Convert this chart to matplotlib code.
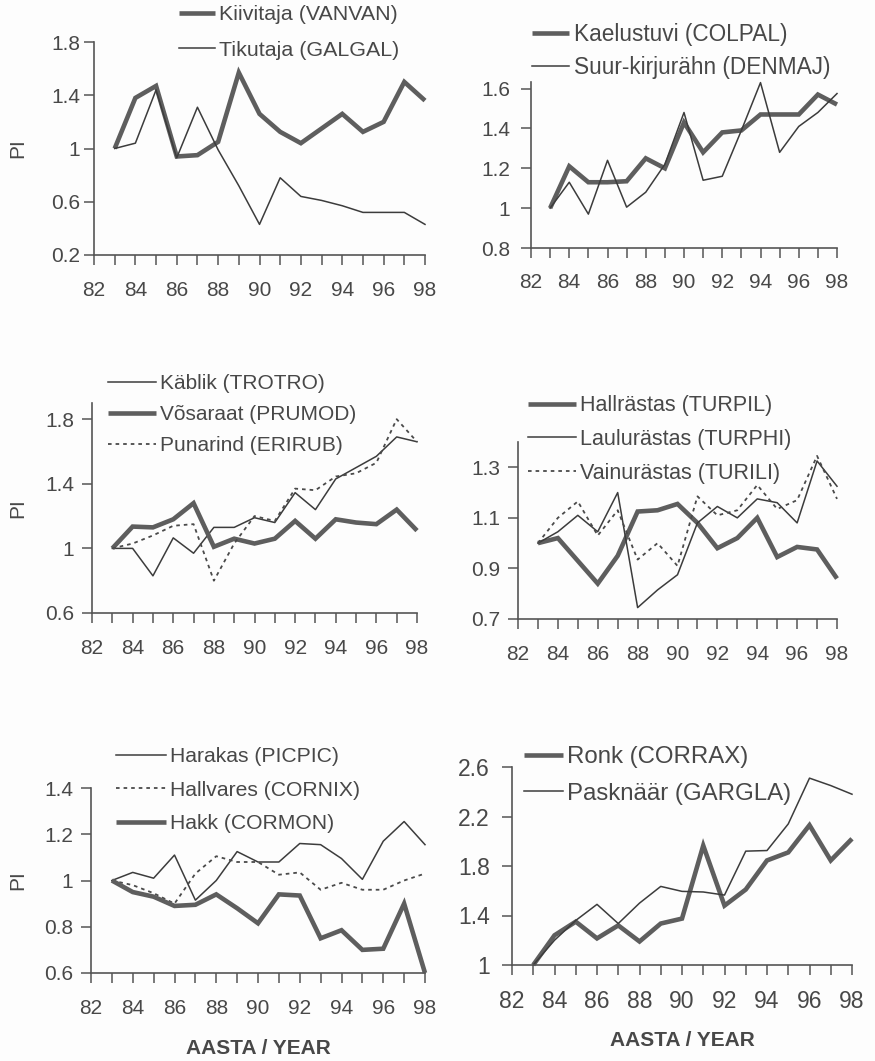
import matplotlib
matplotlib.use('Agg')
import matplotlib.pyplot as plt

plt.rcParams['font.family'] = ['Liberation Sans', 'DejaVu Sans']

W, H = 875, 1061
years = list(range(83, 99))

# PI values (1983 = 1)
vanvan = [1.0, 1.38, 1.47, 0.94, 0.95, 1.05, 1.57, 1.26, 1.125, 1.04, 1.15, 1.26, 1.125, 1.2, 1.5, 1.36]
galgal = [1.0, 1.04, 1.44, 0.93, 1.31, 0.99, 0.72, 0.43, 0.78, 0.64, 0.61, 0.57, 0.52, 0.52, 0.52, 0.43]

colpal = [1.0, 1.21, 1.13, 1.13, 1.135, 1.25, 1.2, 1.43, 1.28, 1.38, 1.39, 1.47, 1.47, 1.47, 1.57, 1.52]
denmaj = [1.0, 1.13, 0.97, 1.24, 1.005, 1.08, 1.22, 1.48, 1.14, 1.16, 1.39, 1.63, 1.28, 1.41, 1.48, 1.575]

trotro = [1.0, 1.0, 0.83, 1.065, 0.97, 1.13, 1.13, 1.19, 1.16, 1.345, 1.24, 1.43, 1.5, 1.57, 1.69, 1.66]
prumod = [1.0, 1.135, 1.13, 1.18, 1.28, 1.01, 1.06, 1.03, 1.06, 1.17, 1.06, 1.18, 1.16, 1.15, 1.24, 1.11]
erirub = [1.0, 1.03, 1.08, 1.14, 1.15, 0.8, 1.03, 1.2, 1.17, 1.37, 1.36, 1.445, 1.465, 1.53, 1.8, 1.66]

turpil = [1.0, 1.02, 0.93, 0.84, 0.95, 1.125, 1.13, 1.155, 1.08, 0.98, 1.02, 1.1, 0.945, 0.985, 0.975, 0.86]
turphi = [1.0, 1.045, 1.11, 1.045, 1.2, 0.745, 0.815, 0.875, 1.08, 1.145, 1.1, 1.175, 1.16, 1.08, 1.325, 1.225]
turili = [1.0, 1.1, 1.165, 1.03, 1.13, 0.935, 1.0, 0.91, 1.185, 1.11, 1.13, 1.23, 1.135, 1.17, 1.345, 1.175]

picpic = [1.0, 1.035, 1.01, 1.11, 0.915, 1.0, 1.125, 1.08, 1.08, 1.16, 1.155, 1.095, 1.005, 1.17, 1.255, 1.155]
cornix = [1.0, 0.98, 0.945, 0.9, 1.03, 1.105, 1.08, 1.08, 1.025, 1.035, 0.96, 0.99, 0.96, 0.96, 1.0, 1.03]
cormon = [1.0, 0.95, 0.93, 0.89, 0.895, 0.94, 0.88, 0.815, 0.94, 0.935, 0.75, 0.785, 0.70, 0.705, 0.9, 0.6]

corrax = [1.0, 1.24, 1.35, 1.215, 1.32, 1.19, 1.335, 1.375, 1.965, 1.48, 1.61, 1.845, 1.91, 2.13, 1.845, 2.02]
gargla = [1.0, 1.2, 1.36, 1.49, 1.335, 1.5, 1.635, 1.595, 1.59, 1.565, 1.92, 1.925, 2.14, 2.51, 2.45, 2.38]

TXT = '#484848'
THICK = dict(color='#5e5e5e', lw=3.3, solid_capstyle='butt', solid_joinstyle='miter')
THIN = dict(color='#3c3c3c', lw=1.1)
DOT = dict(color='#4a4a4a', lw=1.3, linestyle=(0, (2, 2.2)))

fig = plt.figure(figsize=(W / 100, H / 100), dpi=100)
fig.patch.set_facecolor('#fdfdfd')


def rect(l, t, r, b):
    return [l / W, 1 - b / H, (r - l) / W, (b - t) / H]


def panel(box, ylim, yticks, ylabels, series, leg_xy, hlen, lfs=15, lsp=0.6, tfs=15,
          ypad=5, xpad=12, ylab=False, xlab=False):
    ax = fig.add_axes(rect(*box))
    ax.set_facecolor('none')
    for name, vals, style in series:
        ax.plot(years, vals, label=name, clip_on=False, **style)
    ax.set_xlim(82, 98)
    ax.set_ylim(*ylim)
    xt = list(range(82, 99))
    ax.set_xticks(xt)
    ax.set_xticklabels([str(y) if y % 2 == 0 else '' for y in xt])
    ax.set_yticks(yticks)
    ax.set_yticklabels(ylabels)
    for s in ['top', 'right']:
        ax.spines[s].set_visible(False)
    for s in ['left', 'bottom']:
        ax.spines[s].set_color('#555555')
        ax.spines[s].set_linewidth(1.2)
    ax.tick_params(axis='x', direction='out', length=7, width=1.1, color='#555555',
                   labelsize=tfs, labelcolor=TXT, pad=xpad)
    ax.tick_params(axis='y', direction='out', length=7, width=1.1, color='#555555',
                   labelsize=tfs, labelcolor=TXT, pad=ypad)
    leg = ax.legend(loc='upper left', bbox_to_anchor=(leg_xy[0] / W, 1 - leg_xy[1] / H),
                    bbox_transform=fig.transFigure, frameon=True, facecolor='#fdfdfd',
                    edgecolor='none', framealpha=1, fancybox=False, borderpad=0.05,
                    borderaxespad=0, handlelength=hlen, handletextpad=0.2,
                    labelspacing=lsp, fontsize=lfs)
    leg.set_zorder(5)
    for t in leg.get_texts():
        t.set_color(TXT)
    if ylab:
        fig.text(18 / W, 1 - (box[1] + box[3]) / 2 / H, 'PI', rotation=90, ha='center',
                 va='center', fontsize=15, color=TXT)
    if xlab:
        fig.text((box[0] + box[2]) / 2 / W, 1 - (box[3] + 76) / H, 'AASTA / YEAR',
                 ha='center', va='center', fontsize=15, fontweight='bold', color=TXT)
    return ax


panel((94, 42, 425, 255), (0.2, 1.8), [0.2, 0.6, 1.0, 1.4, 1.8], ['0.2', '0.6', '1', '1.4', '1.8'],
      [('Kiivitaja (VANVAN)', vanvan, THICK), ('Tikutaja (GALGAL)', galgal, THIN)],
      (178, 4), 1.68, lfs=15.4, lsp=0.77, ypad=3, ylab=True)

panel((531, 82, 837, 248), (0.8, 1.633), [0.8, 1.0, 1.2, 1.4, 1.6], ['0.8', '1', '1.2', '1.4', '1.6'],
      [('Kaelustuvi (COLPAL)', colpal, THICK), ('Suur-kirjurähn (DENMAJ)', denmaj, THIN)],
      (531, 22), 1.63, lfs=16.3, lsp=0.44, ypad=8, xpad=11)

panel((92, 403, 417, 613), (0.6, 1.9), [0.6, 1.0, 1.4, 1.8], ['0.6', '1', '1.4', '1.8'],
      [('Käblik (TROTRO)', trotro, THIN), ('Võsaraat (PRUMOD)', prumod, THICK),
       ('Punarind (ERIRUB)', erirub, DOT)],
      (107, 373), 2.3, lfs=15, lsp=0.57, ypad=6, ylab=True)

panel((518, 442, 837, 619), (0.7, 1.4), [0.7, 0.9, 1.1, 1.3], ['0.7', '0.9', '1.1', '1.3'],
      [('Hallrästas (TURPIL)', turpil, THICK), ('Laulurästas (TURPHI)', turphi, THIN),
       ('Vainurästas (TURILI)', turili, DOT)],
      (527, 394), 2.23, lfs=15.5, lsp=0.6, ypad=6)

panel((91, 788, 425, 973), (0.6, 1.4), [0.6, 0.8, 1.0, 1.2, 1.4], ['0.6', '0.8', '1', '1.2', '1.4'],
      [('Harakas (PICPIC)', picpic, THIN), ('Hallvares (CORNIX)', cornix, DOT),
       ('Hakk (CORMON)', cormon, THICK)],
      (115, 746), 2.37, lfs=15.2, lsp=0.69, ypad=6, ylab=True, xlab=True)

panel((512, 767, 852, 965), (1.0, 2.6), [1.0, 1.4, 1.8, 2.2, 2.6], ['1', '1.4', '1.8', '2.2', '2.6'],
      [('Ronk (CORRAX)', corrax, THICK), ('Pasknäär (GARGLA)', gargla, THIN)],
      (523, 745), 1.6, lfs=17.3, lsp=0.61, tfs=16.5, ypad=9, xpad=11, xlab=True)

fig.savefig('out.png', dpi=100, facecolor=fig.get_facecolor())
